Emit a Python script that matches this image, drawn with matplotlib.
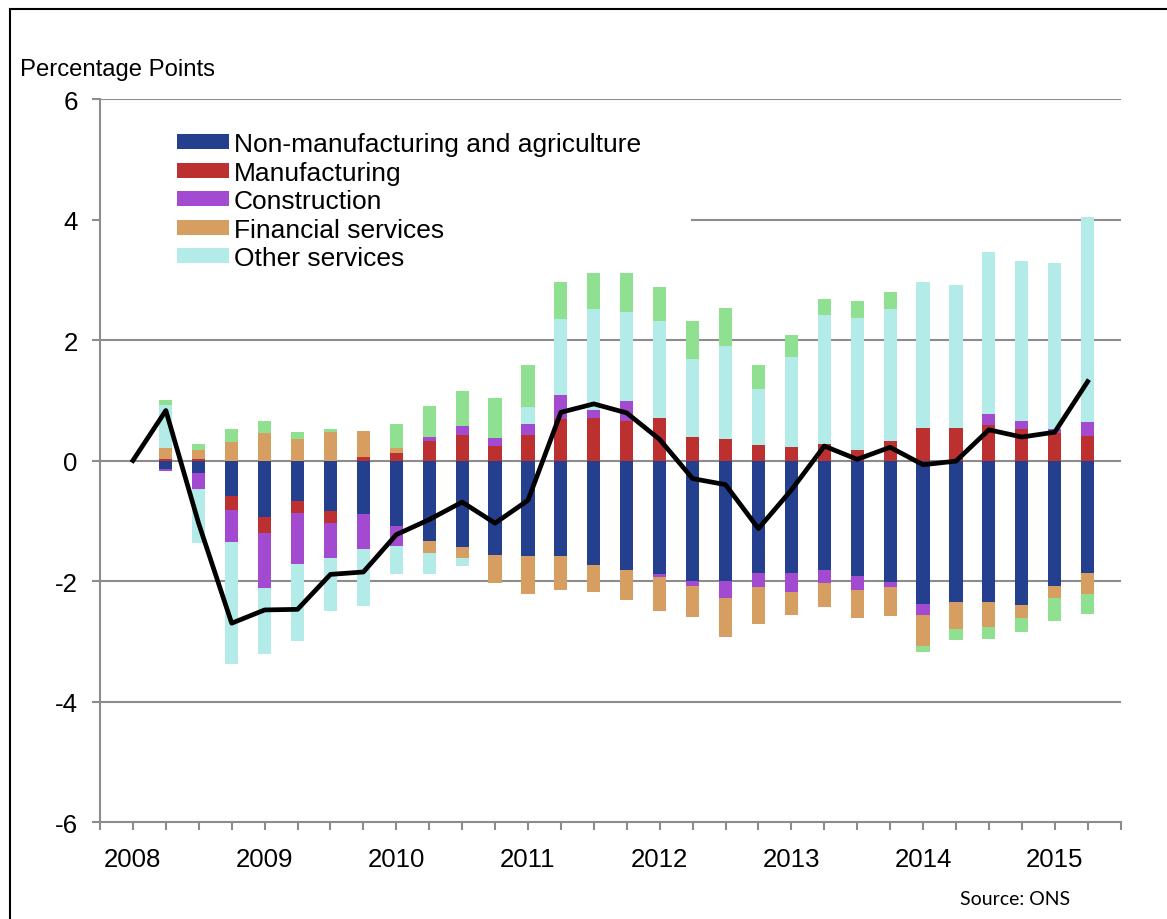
import numpy as np
import matplotlib
matplotlib.use("Agg")
import matplotlib.pyplot as plt
from matplotlib.patches import Rectangle

plt.rcParams["font.family"] = ["Liberation Sans", "DejaVu Sans"]
plt.rcParams["axes.unicode_minus"] = False

# Data (quarterly contributions, 2008 Q2 - 2015 Q2)
years = ["2008", "2009", "2010", "2011", "2012", "2013", "2014", "2015"]

non_manufacturing = [-0.14, -0.20, -0.59, -0.93, -0.67, -0.84, -0.89, -1.08, -1.33, -1.44,
                     -1.56, -1.58, -1.59, -1.73, -1.81, -1.89, -2.00, -2.00, -1.87, -1.87,
                     -1.82, -1.92, -2.02, -2.38, -2.35, -2.35, -2.39, -2.09, -1.87]
manufacturing = [0.02, 0.02, -0.23, -0.28, -0.20, -0.19, 0.06, 0.13, 0.33, 0.42,
                 0.24, 0.42, 0.69, 0.70, 0.65, 0.70, 0.39, 0.36, 0.25, 0.23,
                 0.28, 0.18, 0.33, 0.54, 0.54, 0.59, 0.53, 0.45, 0.40]
construction = [-0.04, -0.27, -0.54, -0.91, -0.85, -0.59, -0.58, -0.34, 0.06, 0.16,
                0.13, 0.19, 0.39, 0.14, 0.33, -0.04, -0.09, -0.29, -0.23, -0.31,
                -0.22, -0.23, -0.08, -0.19, 0.0, 0.18, 0.13, 0.08, 0.24]
financial = [0.19, 0.16, 0.30, 0.45, 0.35, 0.48, 0.43, 0.08, -0.20, -0.18,
             -0.47, -0.63, -0.56, -0.46, -0.50, -0.56, -0.50, -0.64, -0.62, -0.38,
             -0.39, -0.47, -0.48, -0.51, -0.45, -0.42, -0.23, -0.20, -0.34]
other_services = [0.71, -0.90, -2.01, -1.09, -1.28, -0.87, -0.95, -0.47, -0.36, -0.13,
                  0.0, 0.27, 1.27, 1.68, 1.49, 1.61, 1.29, 1.54, 0.94, 1.48,
                  2.13, 2.18, 2.19, 2.42, 2.38, 2.69, 2.65, 2.74, 3.40]
other = [0.08, 0.09, 0.22, 0.21, 0.13, 0.04, 0.0, 0.40, 0.51, 0.58,
         0.66, 0.70, 0.61, 0.60, 0.64, 0.57, 0.64, 0.63, 0.39, 0.37,
         0.27, 0.28, 0.27, -0.09, -0.18, -0.19, -0.22, -0.37, -0.34]

# total, 2008 Q1 - 2015 Q2
total = [0.0, 0.83, -1.05, -2.70, -2.48, -2.47, -1.89, -1.85, -1.23, -0.98,
         -0.69, -1.04, -0.66, 0.80, 0.94, 0.79, 0.35, -0.30, -0.40, -1.13,
         -0.49, 0.24, 0.02, 0.22, -0.07, -0.01, 0.51, 0.39, 0.47, 1.31]

series = [
    ("Non-manufacturing and agriculture", non_manufacturing, "#253f8f"),
    ("Manufacturing", manufacturing, "#bd3030"),
    ("Construction", construction, "#a24bd0"),
    ("Financial services", financial, "#d79e62"),
    ("Other services", other_services, "#b3ebe9"),
    (None, other, "#8fe191"),
]

# Plot
fig = plt.figure(figsize=(11.67, 9.2), dpi=100)
ax = fig.add_axes([0.0857, 0.1054, 0.8745, 0.7859])

x_bar = np.arange(1, len(non_manufacturing) + 1)
x_line = np.arange(len(total))

pos_base = np.zeros(len(x_bar))
neg_base = np.zeros(len(x_bar))
handles = []
for label, values, color in series:
    v = np.array(values)
    bottom = np.where(v >= 0, pos_base, neg_base)
    bars = ax.bar(x_bar, v, bottom=bottom, width=0.4, color=color, zorder=3)
    pos_base = pos_base + np.where(v >= 0, v, 0)
    neg_base = neg_base + np.where(v < 0, v, 0)
    if label:
        handles.append((bars, label))

ax.plot(x_line, total, color="black", lw=3.4, zorder=4)

# Gridlines (the one at 4 is hidden behind the legend on the left)
for yv in [6, 2, 0, -2, -4]:
    ax.axhline(yv, color="#8c8c8c", lw=1.5, zorder=1)
ax.axhline(4, xmin=0.58, color="#8c8c8c", lw=1.5, zorder=1)

ax.set_xlim(-1, 30)
ax.set_ylim(-6, 6)
ax.set_yticks(range(-6, 7, 2))
ax.set_xticks(range(-1, 31))
ax.set_xticklabels(["" if (i % 4) else years[i // 4] if i >= 0 and i // 4 < len(years) else ""
                    for i in range(-1, 31)])

for side in ["top", "right"]:
    ax.spines[side].set_visible(False)
for side in ["left", "bottom"]:
    ax.spines[side].set_color("#8c8c8c")
    ax.spines[side].set_linewidth(1.5)

ax.tick_params(axis="both", colors="#8c8c8c", width=1.5, length=6,
               labelcolor="black", labelsize=18.6)
ax.tick_params(axis="y", pad=10)
ax.tick_params(axis="x", pad=12)

ax.legend([h for h, _ in handles], [l for _, l in handles],
          loc="upper left", bbox_to_anchor=(0.075, 0.954),
          frameon=False, fontsize=19, handlelength=1.97, handleheight=0.5,
          handletextpad=0.2, labelspacing=0.17, borderpad=0, borderaxespad=0)

fig.text(20 / 1167, 1 - 70 / 920, "Percentage Points", fontsize=17.2, va="center", ha="left")
fig.text(1070 / 1167, 1 - 900 / 920, "Source: ONS", fontsize=14, va="center", ha="right",
         family=["Lato", "DejaVu Sans"])

fig.patches.append(Rectangle((10 / 1167, -0.1), 1.2, 1.1 - 10 / 920,
                             transform=fig.transFigure, fill=False,
                             edgecolor="black", lw=1.5))

fig.savefig("out.png", dpi=100)
